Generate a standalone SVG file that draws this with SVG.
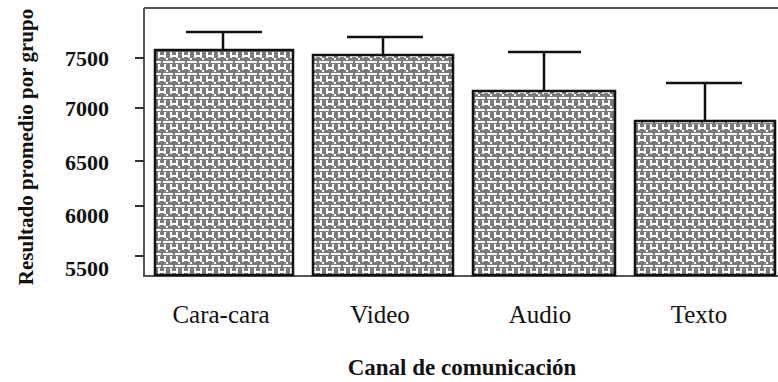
<svg xmlns="http://www.w3.org/2000/svg" width="778" height="382" viewBox="0 0 778 382">
<style>
.frame{stroke:#555;stroke-width:2;fill:none}
.tick{stroke:#333;stroke-width:2}
.bar{stroke:#111;stroke-width:2.5;fill:url(#tex)}
.err{stroke:#111;stroke-width:2.5;fill:none}
text{font-family:"Liberation Serif","Times New Roman","DejaVu Serif",serif;fill:#111}
.ylab{font-weight:bold;font-size:22px;text-anchor:end}
.xlab{font-size:25px;text-anchor:middle}
.title{font-weight:bold;text-anchor:middle}
</style>
<defs>
<pattern id="tex" patternUnits="userSpaceOnUse" width="12" height="12">
<rect width="12" height="12" fill="#7a7a7a"/>
<rect x="0" y="1" width="5" height="2" fill="#fff"/>
<rect x="7" y="1" width="5" height="2" fill="#fff"/>
<rect x="2" y="4" width="2" height="6" fill="#fff"/>
<rect x="8" y="4" width="2" height="6" fill="#fff"/>
<rect x="4" y="7" width="4" height="2" fill="#fff"/>
<rect x="10" y="10" width="2" height="2" fill="#fff"/>
</pattern>
</defs>
<g id="axes">
<path class="frame" d="M144,8 H778 M144,8 V276 H778"/>
<path class="tick" d="M135,58 H144 M135,108 H144 M135,161 H144 M135,206 H144 M135,256 H144"/>
<text class="ylab" x="109" y="66">7500</text>
<text class="ylab" x="109" y="116">7000</text>
<text class="ylab" x="109" y="170">6500</text>
<text class="ylab" x="109" y="223">6000</text>
<text class="ylab" x="109" y="276">5500</text>
</g>
<g id="bar-cara-cara">
<rect class="bar" x="155" y="50" width="138" height="225"/>
<path class="err" d="M223,50 V32 M186,32 H262"/>
<text class="xlab" x="221" y="323">Cara-cara</text>
</g>
<g id="bar-video">
<rect class="bar" x="313" y="55" width="140" height="220"/>
<path class="err" d="M383,55 V37 M347,37 H423"/>
<text class="xlab" x="380" y="323">Video</text>
</g>
<g id="bar-audio">
<rect class="bar" x="473" y="91" width="142" height="184"/>
<path class="err" d="M544,91 V52 M508,52 H581"/>
<text class="xlab" x="540" y="323">Audio</text>
</g>
<g id="bar-texto">
<rect class="bar" x="635" y="121" width="140" height="154"/>
<path class="err" d="M705,121 V83 M666,83 H742"/>
<text class="xlab" x="699" y="323">Texto</text>
</g>
<g id="titles">
<text class="title" x="462" y="375" style="font-size:23px">Canal de comunicación</text>
<text class="title" transform="translate(33,147) rotate(-90)" style="font-size:21px">Resultado promedio por grupo</text>
</g>
</svg>
